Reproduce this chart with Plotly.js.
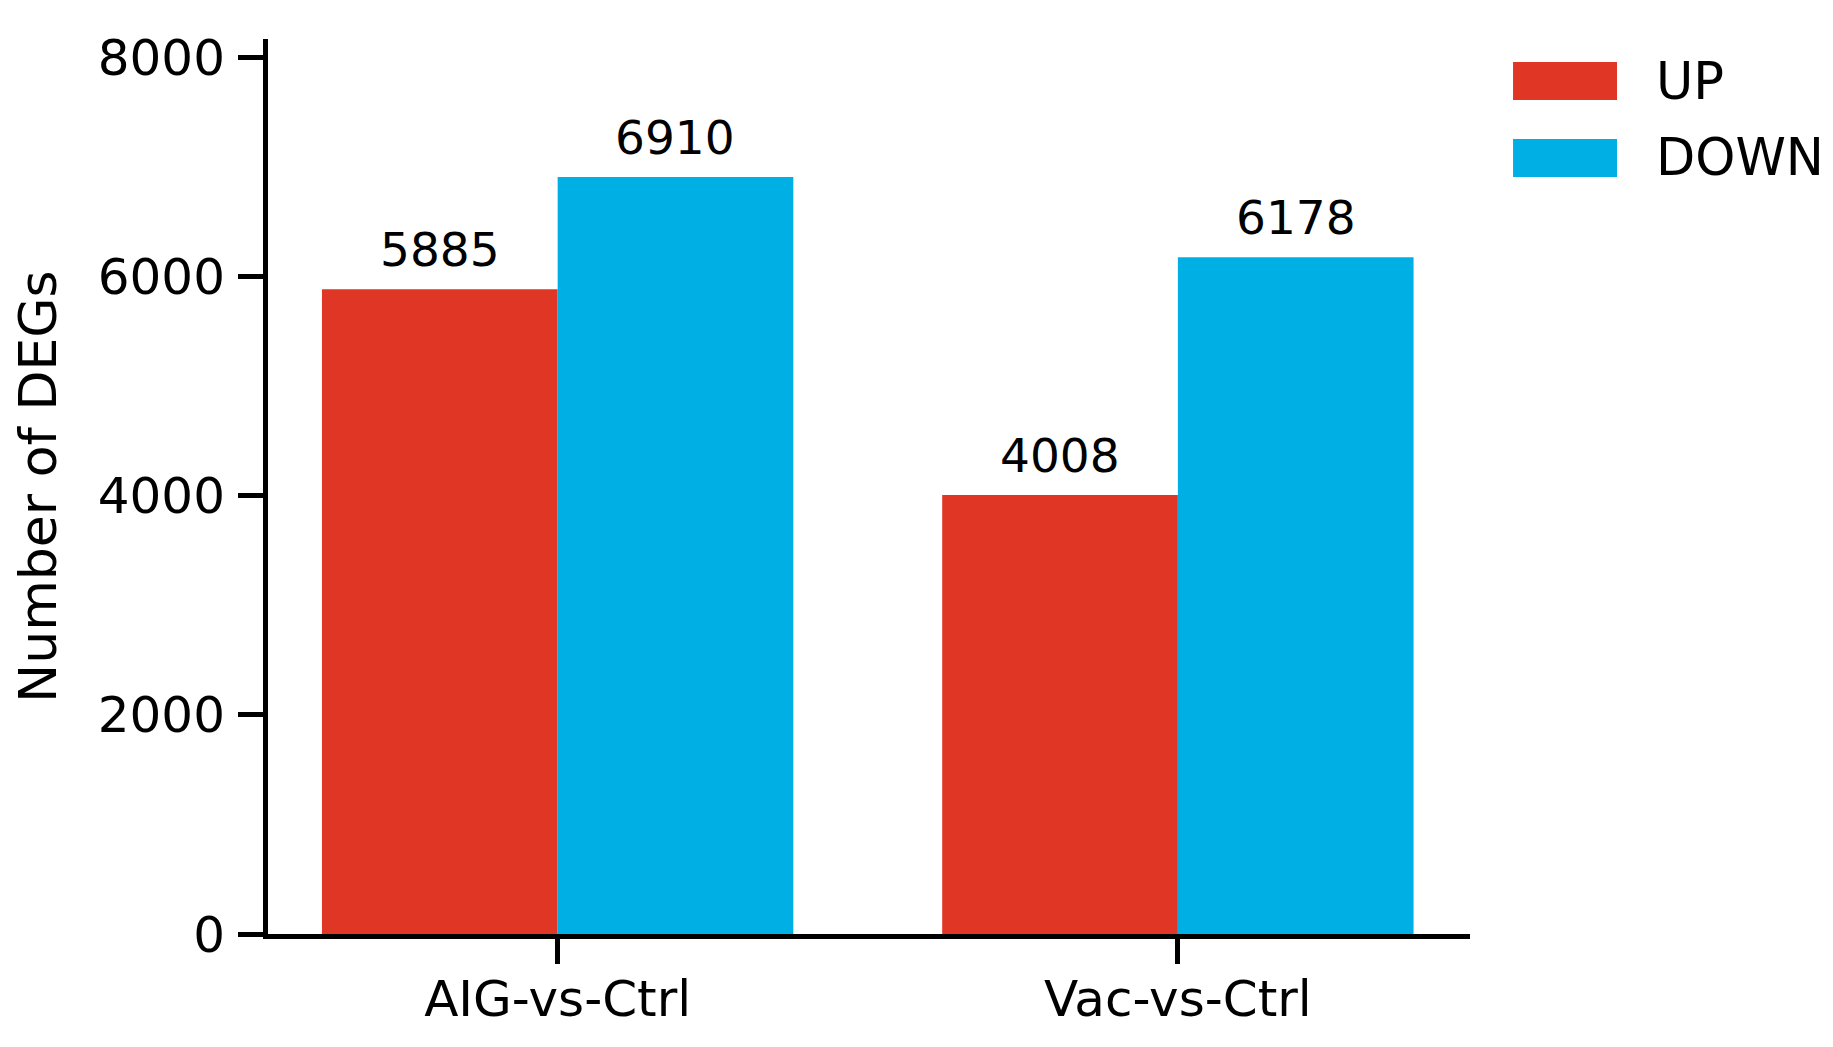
<!DOCTYPE html>
<html>
<head>
<meta charset="utf-8">
<script src="https://cdn.plot.ly/plotly-3.0.1.min.js"></script>
<style>
  html, body { margin: 0; padding: 0; background: #fff; }
  #chart { width: 1833px; height: 1047px; }
</style>
</head>
<body>
<div id="chart"></div>
<script>
var comparisons = ['AIG-vs-Ctrl', 'Vac-vs-Ctrl'];
var upCounts = [5885, 4008];
var downCounts = [6910, 6178];
var seriesNames = ['UP', 'DOWN'];
var seriesColors = ['#E03626', '#00B0E4'];

var font = 'DejaVu Sans, Arial, sans-serif';
var bargap = 0.24;

var up = {
  x: comparisons,
  y: upCounts,
  name: seriesNames[0],
  type: 'bar',
  marker: { color: seriesColors[0] },
  showlegend: false
};

var down = {
  x: comparisons,
  y: downCounts,
  name: seriesNames[1],
  type: 'bar',
  marker: { color: seriesColors[1] },
  showlegend: false
};

var data = [up, down];

var annotations = [];
// value labels above each bar (bar centre = category +/- quarter of group width)
var off = (1 - bargap) / 4;
[upCounts, downCounts].forEach(function (vals, s) {
  vals.forEach(function (v, i) {
    annotations.push({
      xref: 'x', yref: 'y',
      x: i + (s === 0 ? -off : off), y: v,
      xanchor: 'center', yanchor: 'bottom', yshift: 10,
      text: String(v), showarrow: false,
      font: { size: 47, color: '#000', family: font }
    });
  });
});

// legend drawn as big boxes like the original figure
var shapes = [];
var legendTop = [0.9743, 0.8883];
var boxH = 0.0425;
seriesNames.forEach(function (nm, i) {
  shapes.push({
    type: 'rect', xref: 'paper', yref: 'paper',
    x0: 1.0358, x1: 1.1223,
    y0: legendTop[i] - boxH, y1: legendTop[i],
    fillcolor: seriesColors[i], line: { width: 0 }
  });
  annotations.push({
    xref: 'paper', yref: 'paper',
    x: 1.1531, y: legendTop[i] - boxH / 2,
    xanchor: 'left', yanchor: 'middle',
    text: nm, showarrow: false,
    font: { size: 51, color: '#000', family: font }
  });
});

var layout = {
  width: 1833,
  height: 1047,
  margin: { l: 268, r: 363, t: 39, b: 113 },
  paper_bgcolor: '#fff',
  plot_bgcolor: '#fff',
  font: { family: font, size: 47, color: '#000' },
  barmode: 'group',
  bargap: bargap,
  bargroupgap: 0,
  showlegend: false,
  xaxis: {
    type: 'category',
    range: [-0.467, 1.471],
    showline: true, linecolor: '#000', linewidth: 5,
    ticks: 'outside', ticklen: 25, tickwidth: 5, tickcolor: '#000',
    ticklabelstandoff: -8,
    showgrid: false, zeroline: false,
    tickfont: { size: 50, family: font, color: '#000' },
    automargin: false
  },
  yaxis: {
    range: [0, 8170],
    tickvals: [0, 2000, 4000, 6000, 8000],
    showline: true, linecolor: '#000', linewidth: 5,
    ticks: 'outside', ticklen: 25, tickwidth: 5, tickcolor: '#000',
    ticklabelstandoff: 3,
    showgrid: false, zeroline: false,
    tickfont: { size: 50, family: font, color: '#000' },
    title: { text: 'Number of DEGs', font: { size: 52, family: font, color: '#000' }, standoff: 26 },
    automargin: false
  },
  shapes: shapes,
  annotations: annotations
};

Plotly.newPlot('chart', data, layout, { displayModeBar: false, staticPlot: true });
</script>
</body>
</html>
